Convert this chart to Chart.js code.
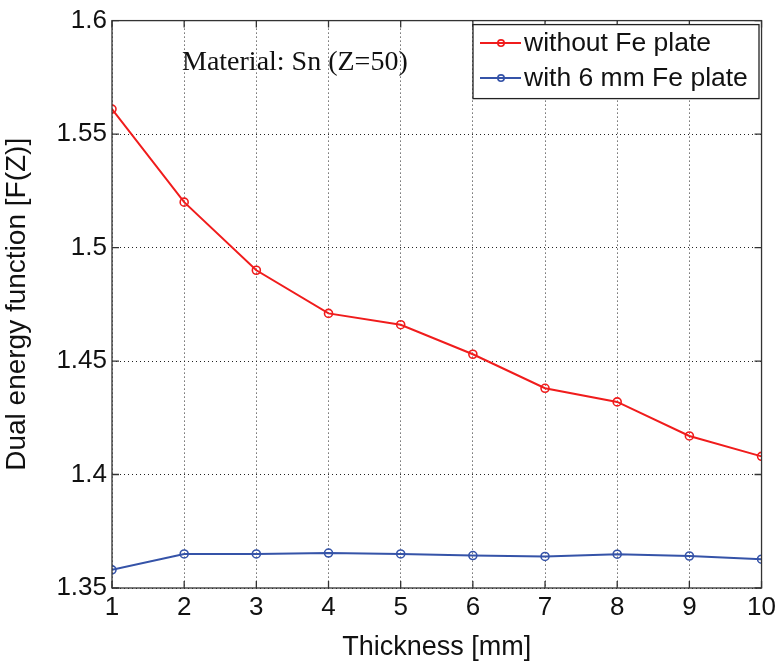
<!DOCTYPE html>
<html>
<head>
<meta charset="utf-8">
<script src="https://cdn.jsdelivr.net/npm/chart.js@4.4.1/dist/chart.umd.min.js"></script>
<style>
  html, body { margin: 0; padding: 0; background: #fff; }
  #wrap { width: 780px; height: 664px; }
</style>
</head>
<body>
<div id="wrap"><canvas id="c" width="780" height="664"></canvas></div>
<script>
// Plate thickness values [mm]
const thickness = [1, 2, 3, 4, 5, 6, 7, 8, 9, 10];
// Dual energy function F(Z) for Sn, without and with a 6 mm Fe plate
const withoutFe = [1.561, 1.520, 1.490, 1.471, 1.466, 1.453, 1.438, 1.432, 1.417, 1.408];
const withFe    = [1.358, 1.365, 1.365, 1.3654, 1.365, 1.3643, 1.3639, 1.3649, 1.3641, 1.3627];
// Axis tick values
const xTickValues = [1, 2, 3, 4, 5, 6, 7, 8, 9, 10];
const yTickValues = [1.35, 1.4, 1.45, 1.5, 1.55, 1.6];
const seriesNames = ['without Fe plate', 'with 6 mm Fe plate'];
const annotationText = 'Material: Sn (Z=50)';

const RED = '#f01c1c';
const BLUE = '#3553a8';
const AXIS = '#333333';
const SANS = '"Liberation Sans", Arial, sans-serif';
const SERIF = '"Liberation Serif", "Times New Roman", serif';

function toPoints(xs, ys) { return xs.map((x, i) => ({ x: x, y: ys[i] })); }

// Box frame, inward ticks, legend and text annotation in MATLAB style
const framePlugin = {
  id: 'frame',
  afterDatasetsDraw(chart) {
    const ctx = chart.ctx;
    const a = chart.chartArea;
    const xs = chart.scales.x, ys = chart.scales.y;
    ctx.save();
    ctx.strokeStyle = AXIS;
    ctx.lineWidth = 1.3;
    ctx.strokeRect(a.left, a.top, a.right - a.left, a.bottom - a.top);
    const t = 7;
    ctx.beginPath();
    xTickValues.forEach(v => {
      const px = xs.getPixelForValue(v);
      ctx.moveTo(px, a.bottom); ctx.lineTo(px, a.bottom - t);
      ctx.moveTo(px, a.top); ctx.lineTo(px, a.top + t);
    });
    yTickValues.forEach(v => {
      const py = ys.getPixelForValue(v);
      ctx.moveTo(a.left, py); ctx.lineTo(a.left + t, py);
      ctx.moveTo(a.right, py); ctx.lineTo(a.right - t, py);
    });
    ctx.stroke();

    // annotation
    ctx.fillStyle = '#111';
    ctx.font = '28px ' + SERIF;
    ctx.textBaseline = 'alphabetic';
    ctx.textAlign = 'left';
    ctx.fillText(annotationText, a.left + 70, a.top + 49);

    // legend box
    const bx = a.left + 361, by = a.top + 4, bw = 286, bh = 74;
    ctx.fillStyle = '#fff';
    ctx.fillRect(bx, by, bw, bh);
    ctx.strokeStyle = '#222';
    ctx.lineWidth = 1.3;
    ctx.strokeRect(bx, by, bw, bh);
    ctx.font = '26.5px ' + SANS;
    ctx.textBaseline = 'middle';
    chart.data.datasets.forEach((ds, i) => {
      const cy = by + 18.5 + i * 35;
      ctx.strokeStyle = ds.borderColor;
      ctx.lineWidth = 2;
      ctx.beginPath();
      ctx.moveTo(bx + 7, cy); ctx.lineTo(bx + 48, cy);
      ctx.stroke();
      ctx.lineWidth = 1.6;
      ctx.beginPath();
      ctx.arc(bx + 28, cy, 3.2, 0, Math.PI * 2);
      ctx.stroke();
      ctx.fillStyle = '#111';
      ctx.fillText(ds.label, bx + 51, cy + 1);
    });
    ctx.restore();
  }
};

new Chart(document.getElementById('c'), {
  type: 'line',
  data: {
    datasets: [
      { label: seriesNames[0], data: toPoints(thickness, withoutFe), borderColor: RED,
        pointBorderColor: RED, pointBackgroundColor: 'rgba(0,0,0,0)' },
      { label: seriesNames[1], data: toPoints(thickness, withFe), borderColor: BLUE,
        pointBorderColor: BLUE, pointBackgroundColor: 'rgba(0,0,0,0)' }
    ]
  },
  options: {
    responsive: false,
    animation: false,
    layout: { padding: { top: 19, right: 17, left: 0, bottom: 0 } },
    elements: {
      line: { borderWidth: 2, tension: 0 },
      point: { radius: 4, borderWidth: 1.6, pointStyle: 'circle' }
    },
    plugins: { legend: { display: false }, tooltip: { enabled: false } },
    scales: {
      x: {
        type: 'linear', min: 1, max: 10,
        afterBuildTicks: s => { s.ticks = xTickValues.map(v => ({ value: v })); },
        afterFit: s => { s.height = 76; },
        ticks: { color: '#111', font: { family: SANS, size: 26 }, padding: 4,
                 callback: v => String(v) },
        grid: { color: '#222', lineWidth: 1, drawTicks: false },
        border: { display: false, dash: [1, 3] },
        title: { display: true, text: 'Thickness [mm]', color: '#111',
                 font: { family: SANS, size: 27 }, padding: { top: 4, bottom: 0 } }
      },
      y: {
        type: 'linear', min: 1.35, max: 1.6,
        afterBuildTicks: s => { s.ticks = yTickValues.map(v => ({ value: v })); },
        afterFit: s => { s.width = 112; },
        ticks: { color: '#111', font: { family: SANS, size: 26 }, padding: 5,
                 callback: v => String(Number(v.toFixed(2))) },
        grid: { color: '#222', lineWidth: 1, drawTicks: false },
        border: { display: false, dash: [1, 3] },
        title: { display: true, text: 'Dual energy function [F(Z)]', color: '#111',
                 font: { family: SANS, size: 28 }, padding: { top: 0, bottom: 0 } }
      }
    }
  },
  plugins: [framePlugin]
});
</script>
</body>
</html>
